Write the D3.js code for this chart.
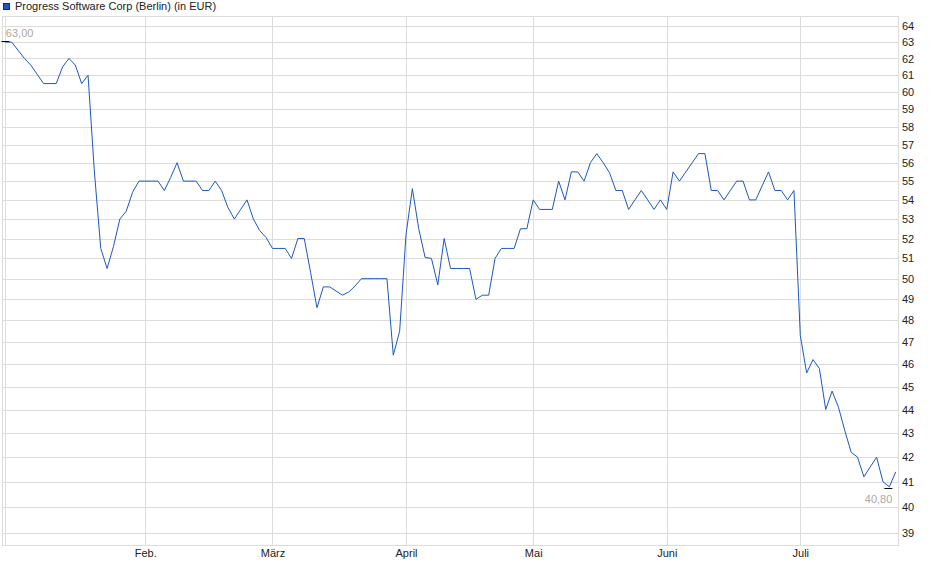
<!DOCTYPE html>
<html>
<head>
<meta charset="utf-8">
<script src="https://cdn.jsdelivr.net/npm/d3@7"></script>
<style>
  html, body { margin: 0; padding: 0; background: #ffffff; }
  svg { display: block; font-family: "Liberation Sans", Arial, sans-serif; }
</style>
</head>
<body>
<svg id="chart" width="940" height="579"></svg>
<script>
// ---- data (one value per trading day, Jan 2 .. Jul 22) ----
const seriesName = "Progress Software Corp (Berlin) (in EUR)";
const prices = [
  63.0, 63.0, 62.5, 62.0, 61.6, 61.05, 60.5, 60.5, 60.5, 61.5,
  62.0, 61.6, 60.5, 61.0, 55.5, 51.5, 50.5, 51.6, 53.0, 53.4,
  54.4, 55.0, 55.0, 55.0, 55.0, 54.5, 55.2, 56.0, 55.0, 55.0,
  55.0, 54.5, 54.5, 55.0, 54.5, 53.6, 53.0, 53.5, 54.0, 53.0,
  52.4, 52.05, 51.5, 51.5, 51.5, 51.0, 52.0, 52.0, 50.3, 48.6,
  49.6, 49.6, 49.4, 49.2, 49.35, 49.65, 50.0, 50.0, 50.0, 50.0,
  50.0, 46.4, 47.5, 52.2, 54.6, 52.5, 51.05, 51.0, 49.7, 52.0,
  50.5, 50.5, 50.5, 50.5, 49.0, 49.2, 49.2, 51.0, 51.5, 51.5,
  51.5, 52.5, 52.5, 54.0, 53.5, 53.5, 53.5, 55.0, 54.0, 55.5,
  55.5, 55.0, 56.0, 56.5, 56.0, 55.45, 54.5, 54.5, 53.5, 54.0,
  54.5, 54.0, 53.5, 54.0, 53.5, 55.5, 55.0, 55.5, 56.0, 56.5,
  56.5, 54.5, 54.5, 54.0, 54.5, 55.0, 55.0, 54.0, 54.0, 54.75,
  55.5, 54.5, 54.5, 54.0, 54.5, 47.3, 45.6, 46.2, 45.8, 44.0,
  44.8, 44.1, 43.1, 42.2, 42.0, 41.2, 41.6, 42.0, 41.0, 40.8,
  41.4
];
// month start positions, in trading-day index
const monthIndex = [0, 22, 42, 63, 83, 104, 125];
const monthLabels = ["", "Feb.", "März", "April", "Mai", "Juni", "Juli"];
const yTicks = [39,40,41,42,43,44,45,46,47,48,49,50,51,52,53,54,55,56,57,58,59,60,61,62,63,64];
const highLabel = "63,00";
const lowLabel = "40,80";

// ---- layout ----
const plot = { left: 2, right: 898, top: 16, bottom: 545 };
const gridColor = "#dcdcdc";
const lineColor = "#1c58c0";
const font = '"Liberation Sans", Arial, sans-serif';

const svg = d3.select("#chart");

const x = d3.scaleLinear().domain([0, prices.length - 1]).range([5.36, 895.7]);
const y = d3.scaleLog().domain([39, 64]).range([533, 26]);

// horizontal grid + right labels
const yAxis = d3.axisRight(y)
  .tickValues(yTicks)
  .tickFormat(d3.format("d"))
  .tickSizeInner(-(plot.right - plot.left))
  .tickSizeOuter(0)
  .tickPadding(4);

const gy = svg.append("g")
  .attr("transform", `translate(${plot.right},0)`)
  .call(yAxis);
gy.select(".domain").remove();
gy.selectAll(".tick line").attr("stroke", gridColor).attr("shape-rendering", "crispEdges");
gy.selectAll(".tick text")
  .attr("fill", "#222").style("font-family", font).style("font-size", "11px");

// vertical grid + month labels
const xAxis = d3.axisBottom(x)
  .tickValues(monthIndex)
  .tickFormat((d, i) => monthLabels[i])
  .tickSizeInner(-(plot.bottom - plot.top))
  .tickSizeOuter(0)
  .tickPadding(4);

const gx = svg.append("g")
  .attr("transform", `translate(0,${plot.bottom})`)
  .call(xAxis);
gx.select(".domain").remove();
gx.selectAll(".tick line").attr("stroke", gridColor).attr("shape-rendering", "crispEdges");
gx.selectAll(".tick text")
  .attr("fill", "#222").style("font-family", font).style("font-size", "11px");

// plot frame
svg.append("rect")
  .attr("x", plot.left + 0.5).attr("y", plot.top + 0.5)
  .attr("width", plot.right - plot.left).attr("height", plot.bottom - plot.top)
  .attr("fill", "none").attr("stroke", gridColor);

// price line
const line = d3.line().x((d, i) => x(i)).y(d => y(d));
svg.append("path")
  .datum(prices)
  .attr("fill", "none")
  .attr("stroke", lineColor)
  .attr("stroke-width", 1)
  .attr("d", line);

// high / low markers
const hiIdx = prices.indexOf(d3.max(prices));
const loIdx = prices.lastIndexOf(d3.min(prices));
svg.append("line")
  .attr("x1", x(hiIdx) - 4).attr("x2", x(hiIdx) + 4)
  .attr("y1", Math.round(y(prices[hiIdx])) - 0.5).attr("y2", Math.round(y(prices[hiIdx])) - 0.5)
  .attr("stroke", "#000");
svg.append("line")
  .attr("x1", x(loIdx) - 5).attr("x2", x(loIdx) + 3)
  .attr("y1", Math.round(y(prices[loIdx])) + 1.5).attr("y2", Math.round(y(prices[loIdx])) + 1.5)
  .attr("stroke", "#000");

svg.append("text")
  .attr("x", x(hiIdx) + 0.5).attr("y", y(prices[hiIdx]) - 5)
  .attr("fill", "#b0a89e").style("font-family", font).style("font-size", "11px")
  .text(highLabel);
svg.append("text")
  .attr("x", x(loIdx) + 3).attr("y", y(prices[loIdx]) + 16)
  .attr("text-anchor", "end")
  .attr("fill", "#b0a89e").style("font-family", font).style("font-size", "11px")
  .text(lowLabel);

// legend
svg.append("rect")
  .attr("x", 3.5).attr("y", 3.5).attr("width", 6).attr("height", 6)
  .attr("fill", "#1c58c0").attr("stroke", "#1a2a60");
svg.append("text")
  .attr("x", 15).attr("y", 10)
  .attr("fill", "#222").style("font-family", font).style("font-size", "11px")
  .text(seriesName);
</script>
</body>
</html>
